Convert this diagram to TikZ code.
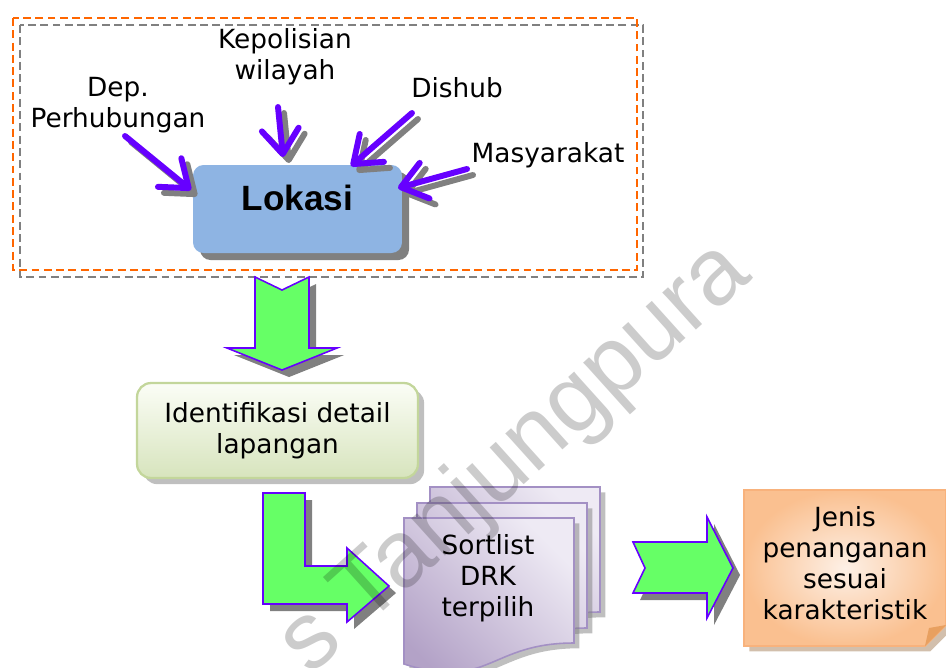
\documentclass[tikz,border=0pt]{standalone}
\usepackage{fontspec}
\setmainfont{DejaVu Sans}
\newfontfamily\lokfont{Liberation Sans}
\usetikzlibrary{arrows.meta,shadows,positioning}

\definecolor{lokblue}{HTML}{8EB4E3}
\definecolor{feedpurple}{HTML}{6600FF}
\definecolor{arrowgreen}{HTML}{66FF66}
\definecolor{shadegray}{HTML}{808080}
\definecolor{frameorange}{HTML}{FF6600}
\definecolor{idtop}{HTML}{FBFDF6}
\definecolor{idbot}{HTML}{D7E4BD}
\definecolor{idedge}{HTML}{C3D69B}
\definecolor{doclight}{HTML}{EEEAF4}
\definecolor{docdark}{HTML}{B3A2C7}
\definecolor{docedge}{HTML}{A390C4}
\definecolor{notelight}{HTML}{FDF0E6}
\definecolor{notedark}{HTML}{FAC090}
\definecolor{noteedge}{HTML}{F8B27C}
\definecolor{notefold}{HTML}{E8A060}

\begin{document}
\begin{tikzpicture}[x=0.02cm,y=-0.02cm,
  every node/.style={font=\fontsize{15}{17.6}\selectfont, align=center, inner sep=0pt},
  frame/.style={dash pattern=on 4.5pt off 2.5pt, line width=1.1pt},
  lokbox/.style={rounded corners=6pt, fill=lokblue, minimum width=4.18cm,
    text height=0.9cm, text depth=0.86cm,
    font=\lokfont\bfseries\fontsize{20}{24}\selectfont,
    drop shadow={shadow xshift=4pt, shadow yshift=-4pt, fill=shadegray, opacity=1}},
  feed/.style={draw=feedpurple, line width=3.4pt, line cap=round,
    -{Straight Barb[length=14pt,width=21pt,round]}},
  feedshadow/.style={feed, draw=shadegray, transform canvas={shift={(6,6)}}},
  blockarrow/.style={fill=arrowgreen, draw=feedpurple, line width=0.9pt,
    drop shadow={shadow xshift=4pt, shadow yshift=-4pt, fill=shadegray, opacity=1}},
  idbox/.style={rounded corners=8pt, draw=idedge, line width=1.3pt,
    top color=idtop, bottom color=idbot, minimum width=5.62cm, minimum height=1.9cm,
    drop shadow={shadow xshift=3.5pt, shadow yshift=-3.5pt, fill=shadegray, opacity=0.5}},
  docpage/.style={draw=docedge, line width=0.9pt, top color=doclight, bottom color=docdark,
    shading angle=-45,
    drop shadow={shadow xshift=3pt, shadow yshift=-3pt, fill=shadegray, opacity=0.5}},
  notepage/.style={draw=noteedge, line width=0.9pt, inner color=notelight, outer color=notedark,
    drop shadow={shadow xshift=3pt, shadow yshift=-3pt, fill=brown!60!gray, opacity=0.5}},
  watermark/.style={rotate=42, font=\lokfont\fontsize{54}{60}\selectfont, text=black, text opacity=0.2}
  ]
  \useasboundingbox (0,0) rectangle (946,667);

  % sumber lokasi
  \draw[frame, shadegray] (20,25) rectangle (643,277);
  \draw[frame, frameorange] (13,18) rectangle (637,270);

  \node[lokbox] (lok) at (297.5,209) {Lokasi};

  \node (dep) at (118,105) {Dep.\\Perhubungan};
  \node (kep) at (285,57) {Kepolisian\\wilayah};
  \node (dishub) at (457,88) {Dishub};
  \node (masy) at (548,155) {Masyarakat};

  \coordinate (depT) at (125,136);
  \coordinate (depH) at (191,190);
  \coordinate (kepT) at (278,107);
  \coordinate (kepH) at (283,157);
  \coordinate (disT) at (412,113);
  \coordinate (disH) at (351,166);
  \coordinate (masT) at (467,169);
  \coordinate (masH) at (398,188);

  \draw[feedshadow] (depT) -- (depH);
  \draw[feedshadow] (kepT) -- (kepH);
  \draw[feedshadow] (disT) -- (disH);
  \draw[feedshadow] (masT) -- (masH);
  \draw[feed] (depT) -- (depH);
  \draw[feed] (kepT) -- (kepH);
  \draw[feed] (disT) -- (disH);
  \draw[feed] (masT) -- (masH);

  % alur
  \draw[blockarrow] (255,277) -- (282,290) -- (309,277) -- (309,348) -- (337,348)
    -- (282,370) -- (227,348) -- (255,348) -- cycle;

  \node[idbox] (ident) at (277.5,430.5) {Identifikasi detail\\lapangan};

  \draw[blockarrow] (263,493) -- (305,493) -- (305,566) -- (347,566) -- (347,548)
    -- (389,586) -- (347,622) -- (347,604) -- (263,604) -- cycle;

  \foreach \dx/\dy in {26/-31,13/-15,0/0}
    \draw[docpage, shift={(\dx,\dy)}] (404,518) -- (574,518) -- (574,643)
      .. controls (489,643) and (489,691) .. (404,664) -- cycle;
  \node (drk) at (488,578) {Sortlist\\DRK\\terpilih};

  \draw[blockarrow] (633,542) -- (707,542) -- (707,517) -- (733,568) -- (707,618)
    -- (707,593) -- (633,593) -- (645,568) -- cycle;

  \draw[notepage] (744,490) -- (946,490) -- (946,625) -- (925,646) -- (744,646) -- cycle;
  \fill[notefold] (925,646) -- (929,628) -- (946,625) -- cycle;
  \node (jenis) at (845,563) {Jenis\\penanganan\\sesuai\\karakteristik};

  \node[watermark] (wm) at (516,459) {s Tanjungpura};
\end{tikzpicture}
\end{document}
